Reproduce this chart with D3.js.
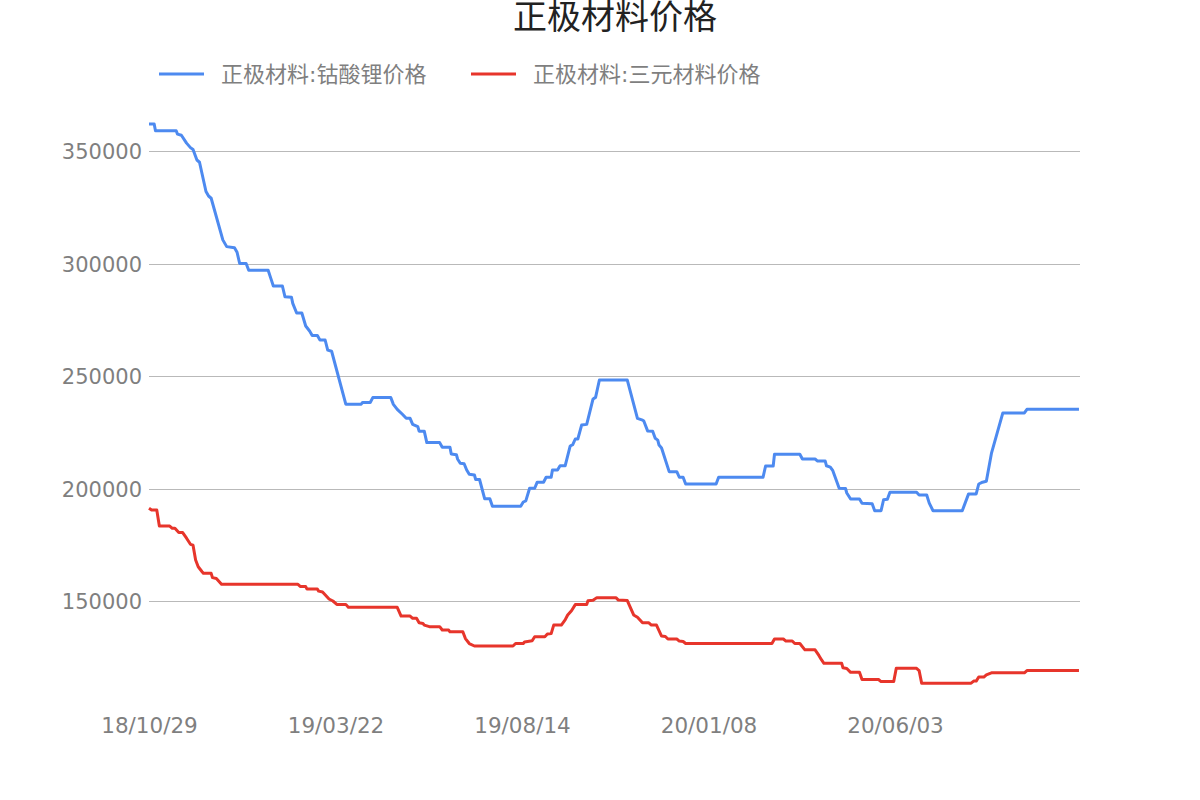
<!DOCTYPE html>
<html><head><meta charset="utf-8">
<script src="https://cdn.jsdelivr.net/npm/d3@7/dist/d3.min.js"></script>
<style>
html,body{margin:0;padding:0;background:#fff;}
svg{display:block;font-family:"DejaVu Sans","Noto Sans CJK SC",sans-serif;}
</style></head><body>
<svg id="chart" width="1200" height="800"></svg>
<script>
const title = "正极材料价格";
const seriesNames = ["正极材料:钴酸锂价格", "正极材料:三元材料价格"];
const xTickDates = ["2018-10-29","2019-03-22","2019-08-14","2020-01-08","2020-06-03","2020-10-28"];
const xTickLabels = ["18/10/29","19/03/22","19/08/14","20/01/08","20/06/03"];
const yTicks = [150000, 200000, 250000, 300000, 350000];

const licoDates = ["2018-10-29","2018-11-02","2018-11-03","2018-11-19","2018-11-20","2018-11-23","2018-11-27","2018-11-30","2018-12-02","2018-12-05","2018-12-07","2018-12-12","2018-12-14","2018-12-16","2018-12-25","2018-12-28","2019-01-03","2019-01-05","2019-01-07","2019-01-12","2019-01-14","2019-01-29","2019-01-31","2019-02-02","2019-02-09","2019-02-11","2019-02-16","2019-02-17","2019-02-20","2019-02-24","2019-02-27","2019-03-02","2019-03-04","2019-03-08","2019-03-10","2019-03-14","2019-03-16","2019-03-19","2019-03-30","2019-04-11","2019-04-12","2019-04-18","2019-04-20","2019-05-04","2019-05-06","2019-05-09","2019-05-13","2019-05-16","2019-05-19","2019-05-21","2019-05-25","2019-05-26","2019-05-30","2019-06-01","2019-06-11","2019-06-13","2019-06-19","2019-06-20","2019-06-24","2019-06-25","2019-06-27","2019-06-30","2019-07-02","2019-07-04","2019-07-08","2019-07-09","2019-07-12","2019-07-16","2019-07-20","2019-07-22","2019-08-13","2019-08-15","2019-08-17","2019-08-20","2019-08-24","2019-08-26","2019-08-31","2019-09-02","2019-09-06","2019-09-07","2019-09-11","2019-09-13","2019-09-17","2019-09-21","2019-09-23","2019-09-25","2019-09-27","2019-09-30","2019-10-04","2019-10-09","2019-10-11","2019-10-14","2019-11-05","2019-11-13","2019-11-17","2019-11-18","2019-11-21","2019-11-25","2019-11-27","2019-11-29","2019-11-30","2019-12-02","2019-12-08","2019-12-14","2019-12-16","2019-12-19","2019-12-21","2020-01-14","2020-01-16","2020-02-20","2020-02-22","2020-02-28","2020-02-29","2020-03-20","2020-03-22","2020-04-01","2020-04-03","2020-04-09","2020-04-10","2020-04-13","2020-04-15","2020-04-20","2020-04-25","2020-04-26","2020-04-29","2020-05-06","2020-05-08","2020-05-16","2020-05-18","2020-05-23","2020-05-25","2020-05-28","2020-05-30","2020-06-20","2020-06-22","2020-06-28","2020-06-30","2020-07-03","2020-07-26","2020-07-31","2020-08-06","2020-08-08","2020-08-11","2020-08-14","2020-08-18","2020-08-27","2020-09-13","2020-09-15","2020-10-26"];
const licoValues = [362000,362000,359000,359000,357500,357000,353500,351500,350700,346000,345000,332000,330000,329000,310500,307500,307000,305000,300000,300000,297000,297000,293500,290000,290000,285200,285000,282300,278000,278000,272200,270000,268000,268000,266000,266000,261500,261000,237500,237500,238200,238200,240400,240400,237400,235200,233000,231200,231200,228500,227500,225500,225500,220400,220400,218300,218300,215300,215000,213000,211200,211000,208200,206300,206000,204000,204000,195400,195400,192100,192100,194000,194500,200100,200100,202800,202800,205000,205000,208200,208200,210100,210100,218900,219500,222000,222000,228200,228500,239800,240500,248200,248200,231200,230400,230000,225600,225400,222300,221500,219300,218000,207500,207500,205000,205000,202000,202000,205000,205000,210000,210000,215200,215200,213100,213100,212200,212200,210100,209500,207900,200100,200000,198000,195300,195300,193400,193200,190100,190100,195000,195200,198300,198300,197100,197100,193500,190100,190100,197600,197600,202000,202800,203200,215600,233600,233600,235200,235200];

const ncmDates = ["2018-10-29","2018-10-31","2018-11-01","2018-11-04","2018-11-06","2018-11-14","2018-11-16","2018-11-18","2018-11-21","2018-11-24","2018-11-27","2018-11-30","2018-12-02","2018-12-04","2018-12-06","2018-12-09","2018-12-10","2018-12-16","2018-12-17","2018-12-20","2018-12-24","2019-02-21","2019-02-23","2019-02-27","2019-02-28","2019-03-08","2019-03-09","2019-03-12","2019-03-17","2019-03-20","2019-03-23","2019-03-30","2019-04-01","2019-05-09","2019-05-12","2019-05-19","2019-05-21","2019-05-24","2019-05-26","2019-05-29","2019-05-30","2019-06-03","2019-06-11","2019-06-13","2019-06-18","2019-06-19","2019-06-29","2019-07-01","2019-07-04","2019-07-08","2019-08-07","2019-08-09","2019-08-15","2019-08-16","2019-08-22","2019-08-24","2019-09-01","2019-09-03","2019-09-06","2019-09-08","2019-09-14","2019-09-17","2019-09-19","2019-09-22","2019-09-25","2019-10-04","2019-10-05","2019-10-09","2019-10-12","2019-10-27","2019-10-29","2019-11-05","2019-11-10","2019-11-13","2019-11-17","2019-11-22","2019-11-24","2019-11-28","2019-12-02","2019-12-05","2019-12-07","2019-12-14","2019-12-16","2019-12-19","2019-12-21","2020-02-27","2020-02-29","2020-03-07","2020-03-09","2020-03-14","2020-03-16","2020-03-20","2020-03-24","2020-04-01","2020-04-04","2020-04-06","2020-04-08","2020-04-22","2020-04-23","2020-04-26","2020-04-29","2020-05-06","2020-05-08","2020-05-21","2020-05-23","2020-06-02","2020-06-04","2020-06-20","2020-06-22","2020-06-24","2020-08-02","2020-08-04","2020-08-06","2020-08-08","2020-08-12","2020-08-14","2020-08-18","2020-09-13","2020-09-15","2020-10-26"];
const ncmValues = [191200,190400,190400,190400,183300,183300,182300,182300,180400,180400,177900,175200,174800,168200,165200,163000,162300,162300,160400,160000,157400,157400,156400,156400,155300,155300,154400,154000,150900,150000,148500,148500,147200,147200,143300,143300,142300,142300,140300,140000,139300,138600,138600,137100,137100,136300,136300,133300,131100,130000,130000,131100,131100,131800,132300,134100,134100,135300,135500,139300,139300,141600,143800,145700,148400,148400,150100,150300,151500,151500,150400,150200,143800,142800,140300,140300,139300,139300,134400,134200,133100,133100,132200,132000,131100,131100,133100,133100,132200,132200,131100,131100,128300,128300,125800,123900,122300,122300,120300,120000,118300,118300,115100,115100,114200,114200,120100,120100,119100,113500,113500,114400,114400,116200,116200,117200,118100,118100,119100,119100];

const colors = ["#4d8af0", "#e7352b"];
const fontFam = '"DejaVu Sans","Noto Sans CJK SC",sans-serif';

const svg = d3.select("#chart");
svg.append("rect").attr("width",1200).attr("height",800).attr("fill","#fff");

const parse = d3.timeParse("%Y-%m-%d");
const left = 149, right = 1081.5;
const tickD = xTickDates.map(parse);
const x = d3.scaleTime()
  .domain(tickD)
  .range(tickD.map((d,i)=> left + i*(right-left)/(tickD.length-1)));
const y = d3.scaleLinear().domain([150000, 350000]).range([601, 151]);

// gridlines
svg.append("g").selectAll("line").data(yTicks).join("line")
  .attr("x1", left).attr("x2", 1080)
  .attr("y1", d=>Math.round(y(d))+0.5).attr("y2", d=>Math.round(y(d))+0.5)
  .attr("stroke","#b9b9b9").attr("stroke-width",1);

// y axis labels
const yAxis = d3.axisLeft(y).tickValues(yTicks).tickSize(0).tickPadding(7).tickFormat(d3.format("d"));
const gy = svg.append("g").attr("transform",`translate(${left},0)`).call(yAxis)
  .attr("font-family", fontFam).attr("font-size", 21);
gy.select(".domain").remove();
gy.selectAll("text").attr("fill","#7f7f7f").attr("font-size",21).attr("dy","0.36em");

// x axis labels
const xAxis = d3.axisBottom(x).tickValues(tickD.slice(0, xTickLabels.length)).tickSize(0).tickPadding(0)
  .tickFormat((d,i)=>xTickLabels[i]);
const gx = svg.append("g").attr("transform",`translate(0,733)`).call(xAxis)
  .attr("font-family", fontFam).attr("font-size", 21.5);
gx.select(".domain").remove();
gx.selectAll("text").attr("fill","#7f7f7f").attr("font-size",21.5).attr("dy","0");

// lines
const series = [
  {dates: licoDates, values: licoValues},
  {dates: ncmDates, values: ncmValues}
];
const line = d3.line().x(d=>x(d[0])).y(d=>y(d[1]));
series.forEach((s,i)=>{
  const pts = s.dates.map((d,j)=>[parse(d), s.values[j]]);
  svg.append("path").datum(pts).attr("d", line)
    .attr("fill","none").attr("stroke", colors[i]).attr("stroke-width",3)
    .attr("stroke-linejoin","round");
});

// title
svg.append("text").attr("x",615).attr("y",29).attr("text-anchor","middle")
  .attr("font-family", fontFam)
  .attr("font-size",34).attr("fill","#222").text(title);

// legend
const legendX = [159, 471];
seriesNames.forEach((n,i)=>{
  const g = svg.append("g").attr("transform",`translate(${legendX[i]},74)`);
  g.append("line").attr("x1",0).attr("x2",45).attr("y1",0).attr("y2",0)
    .attr("stroke",colors[i]).attr("stroke-width",3);
  g.append("text").attr("x",62).attr("y",0).attr("dy","0.35em")
    .attr("font-family", fontFam)
    .attr("font-size",22).attr("fill","#7f7f7f").text(n);
});
</script>
</body></html>
